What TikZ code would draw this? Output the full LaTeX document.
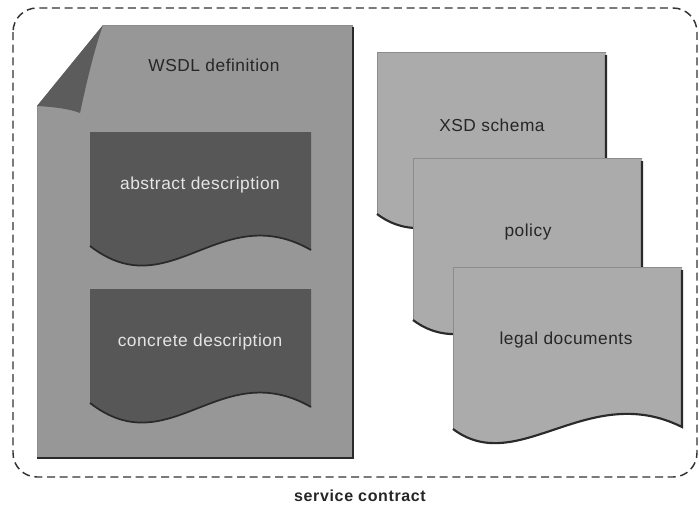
\documentclass[tikz,border=0pt]{standalone}
\usepackage{fontspec}
\setmainfont{Liberation Sans}
\definecolor{pagegray}{HTML}{979797}
\definecolor{flapgray}{HTML}{5C5C5C}
\definecolor{boxgray}{HTML}{575757}
\definecolor{docgray}{HTML}{ABABAB}
\definecolor{edgegray}{HTML}{2A2A2A}
\definecolor{bordergray}{HTML}{333333}
\begin{document}
\begin{tikzpicture}[x=0.75pt,y=-0.75pt,
  lbl/.style={font=\fontsize{13pt}{15pt}\selectfont\addfontfeature{LetterSpace=3}, text=black!85, inner sep=0pt},
  wlbl/.style={lbl, text=white!90!black},
  edgeline/.style={draw=edgegray, line width=1.6pt},
  thinedge/.style={draw=black!45, line width=0.5pt}]
\useasboundingbox (0,0) rectangle (699,508);
\fill[white] (0,0) rectangle (699,508);
% service contract border
\draw[bordergray, line width=1.1pt, dash pattern=on 6pt off 3.5pt, rounded corners=18]
  (13,8) rectangle (697,477);
% WSDL page
\fill[pagegray] (103,25) -- (353,25) -- (353,458) -- (37,458) -- (37,106) -- cycle;
\draw[thinedge] (37,458) -- (37,106);
\draw[thinedge] (103,25) -- (353,25);
\draw[edgeline] (353,27) -- (353,458) -- (37,458);
\fill[flapgray] (103,25) -- (37,106) .. controls (55,107) and (70,109) .. (80,113)
  .. controls (86,85) and (94,50) .. (103,25) -- cycle;
% abstract / concrete boxes
\foreach \yy in {132,289}{
  \begin{scope}[shift={(90,\yy)}]
    \fill[boxgray] (0,0) -- (221,0) -- (221,118) .. controls (130,66) and (80,176) .. (0,114) -- cycle;
    \draw[edgegray, line width=1.3pt] (221,118) .. controls (130,66) and (80,176) .. (0,114);
  \end{scope}
}
% right documents
\foreach \xx/\yy in {377/52,413/158,453/267}{
  \begin{scope}[shift={(\xx,\yy)}]
    \fill[docgray] (0,0) -- (229,0) -- (229,160) .. controls (135,113) and (65,211) .. (0,162) -- cycle;
    \draw[thinedge] (0,162) -- (0,0) -- (229,0);
    \draw[edgeline] (229,3) -- (229,160) .. controls (135,113) and (65,211) .. (0,162);
  \end{scope}
}
% labels
\node[lbl] (wsdl) at (214,65) {WSDL definition};
\node[wlbl] (abs) at (200,185) {abstract description};
\node[wlbl] (con) at (200,342) {concrete description};
\node[lbl] (xsd) at (492,125) {XSD schema};
\node[lbl] (pol) at (528,232) {policy};
\node[lbl] (leg) at (566,340) {legal documents};
\node[lbl, font=\fontsize{12pt}{14pt}\selectfont\bfseries\addfontfeature{LetterSpace=4}] (sc) at (360,496) {service contract};
\end{tikzpicture}
\end{document}
